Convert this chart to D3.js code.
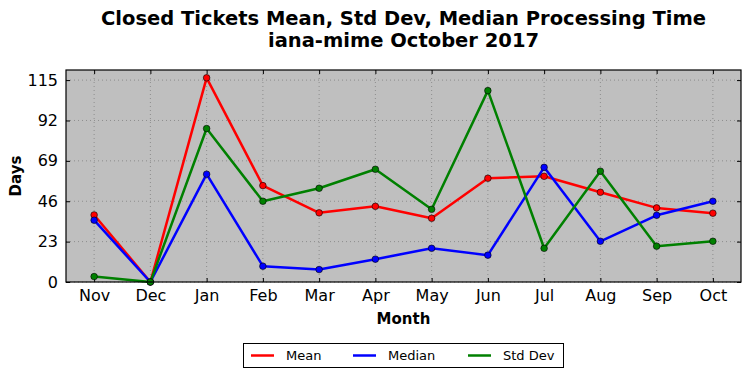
<!DOCTYPE html>
<html><head><meta charset="utf-8">
<script src="https://cdn.jsdelivr.net/npm/d3@7"></script>
<style>body{margin:0;background:#fff}svg{display:block;font-family:"DejaVu Sans",sans-serif}</style>
</head><body><svg id="c" width="750" height="378"></svg>
<script>
const months = ["Nov","Dec","Jan","Feb","Mar","Apr","May","Jun","Jul","Aug","Sep","Oct"];
const meanVals = [38.2,0,116.3,54.9,39.4,43.1,36.3,59.1,60.2,51.1,42.2,39.2];
const medianVals = [35.2,0,61.4,9.0,7.1,13.0,19.2,15.3,65.3,23.2,38.0,46.0];
const stdVals = [3.1,0,87.4,46.0,53.4,64.2,41.4,109,19.2,63.1,20.4,23.2];
const yTicks = [0,23,46,69,92,115];
const seriesNames = ["Mean","Median","Std Dev"];
const seriesColors = ["#ff0000","#0000ff","#008000"];

const svg = d3.select("#c");
const L=66,R=741,T=70,B=282;
const x = d3.scaleLinear().domain([-0.5,11.5]).range([L,R]);
const y = d3.scaleLinear().domain([0,120.75]).range([B,T]);

svg.append("rect").attr("x",L).attr("y",T).attr("width",R-L).attr("height",B-T).attr("fill","#bfbfbf");

// grid
const g = svg.append("g");
months.forEach((m,i)=>{
  g.append("line").attr("x1",x(i)).attr("x2",x(i)).attr("y1",T).attr("y2",B)
   .attr("stroke","#808080").attr("stroke-width",0.8).attr("stroke-dasharray","1,3");
});
yTicks.forEach(v=>{
  g.append("line").attr("x1",L).attr("x2",R).attr("y1",y(v)).attr("y2",y(v))
   .attr("stroke","#808080").attr("stroke-width",0.8).attr("stroke-dasharray","1,3");
});

// axes with inward ticks
const xb = svg.append("g").attr("transform",`translate(0,${B})`)
  .call(d3.axisBottom(x).tickValues(d3.range(12)).tickFormat(i=>months[i]).tickSizeInner(-4).tickSizeOuter(0).tickPadding(8));
const xt = svg.append("g").attr("transform",`translate(0,${T})`)
  .call(d3.axisTop(x).tickValues(d3.range(12)).tickFormat("").tickSizeInner(-4).tickSizeOuter(0));
const yl = svg.append("g").attr("transform",`translate(${L},0)`)
  .call(d3.axisLeft(y).tickValues(yTicks).tickSizeInner(-4).tickSizeOuter(0).tickPadding(8));
const yr = svg.append("g").attr("transform",`translate(${R},0)`)
  .call(d3.axisRight(y).tickValues(yTicks).tickFormat("").tickSizeInner(-4).tickSizeOuter(0));
[xb,xt,yl,yr].forEach(a=>{
  a.select(".domain").remove();
  a.selectAll("text").attr("font-size",16).attr("font-family","DejaVu Sans").attr("fill","#000");
  a.selectAll("line").attr("stroke","#000");
});

// lines
const line = d3.line().x((d,i)=>x(i)).y(d=>y(d));
[meanVals,medianVals,stdVals].forEach((vals,k)=>{
  svg.append("path").datum(vals).attr("d",line).attr("fill","none")
    .attr("stroke",seriesColors[k]).attr("stroke-width",2.5).attr("stroke-linejoin","round");
});
[meanVals,medianVals,stdVals].forEach((vals,k)=>{
  svg.append("g").selectAll("circle").data(vals).join("circle")
    .attr("cx",(d,i)=>x(i)).attr("cy",d=>y(d)).attr("r",3.3)
    .attr("fill",seriesColors[k]).attr("stroke","#000").attr("stroke-width",0.6);
});

// frame
svg.append("rect").attr("x",L).attr("y",T).attr("width",R-L).attr("height",B-T)
  .attr("fill","none").attr("stroke","#000").attr("stroke-width",1.2);

// titles
const cx=(L+R)/2;
svg.append("text").attr("x",cx).attr("y",25).attr("text-anchor","middle")
  .attr("font-size",19.5).attr("font-weight","bold").text("Closed Tickets Mean, Std Dev, Median Processing Time");
svg.append("text").attr("x",cx).attr("y",47).attr("text-anchor","middle")
  .attr("font-size",19.5).attr("font-weight","bold").text("iana-mime October 2017");
svg.append("text").attr("x",cx).attr("y",324).attr("text-anchor","middle")
  .attr("font-size",15).attr("font-weight","bold").text("Month");
svg.append("text").attr("transform",`translate(21,${(T+B)/2}) rotate(-90)`).attr("text-anchor","middle")
  .attr("font-size",15).attr("font-weight","bold").text("Days");

// legend
const lg = svg.append("g");
lg.append("rect").attr("x",243.5).attr("y",343.5).attr("width",320).attr("height",24)
  .attr("fill","#fff").attr("stroke","#000").attr("stroke-width",1);
const lx=[251,353,468];
seriesNames.forEach((n,k)=>{
  lg.append("line").attr("x1",lx[k]).attr("x2",lx[k]+23).attr("y1",355.5).attr("y2",355.5)
    .attr("stroke",seriesColors[k]).attr("stroke-width",2.5);
  lg.append("text").attr("x",lx[k]+35).attr("y",360).attr("font-size",13).text(n);
});
</script></body></html>
